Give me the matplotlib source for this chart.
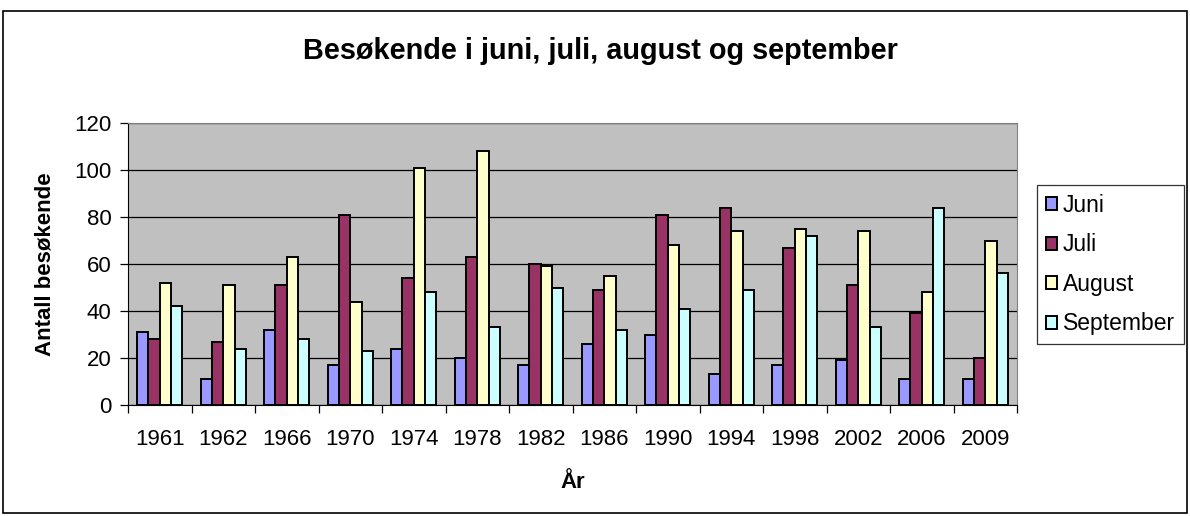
import matplotlib
matplotlib.use("Agg")
import matplotlib.pyplot as plt
import numpy as np
from matplotlib.patches import Rectangle

plt.rcParams["font.family"] = ["Liberation Sans", "DejaVu Sans"]

YEARS = ["1961", "1962", "1966", "1970", "1974", "1978", "1982",
         "1986", "1990", "1994", "1998", "2002", "2006", "2009"]
JUNI = [31, 11, 32, 17, 24, 20, 17, 26, 30, 13, 17, 19, 11, 11]
JULI = [28, 27, 51, 81, 54, 63, 60, 49, 81, 84, 67, 51, 39, 20]
AUGUST = [52, 51, 63, 44, 101, 108, 59, 55, 68, 74, 75, 74, 48, 70]
SEPTEMBER = [42, 24, 28, 23, 48, 33, 50, 32, 41, 49, 72, 33, 84, 56]

SERIES = [("Juni", JUNI, "#9999FF"),
          ("Juli", JULI, "#993366"),
          ("August", AUGUST, "#FFFFCC"),
          ("September", SEPTEMBER, "#CCFFFF")]

W, H = 1190, 516
fig = plt.figure(figsize=(W / 100, H / 100), dpi=100)
fig.patches.append(Rectangle((3 / W, 3 / H), (W - 6) / W, (H - 14) / H,
                             transform=fig.transFigure, fill=False,
                             edgecolor="black", linewidth=1.2))

ax = fig.add_axes([128 / W, (H - 405) / H, 889 / W, 282 / H])
ax.set_facecolor("#C0C0C0")

x = np.arange(len(YEARS))
bw = 0.178
for i, (name, vals, col) in enumerate(SERIES):
    ax.bar(x + (i - 1.5) * bw, vals, width=bw, color=col,
           edgecolor="black", linewidth=1.4, label=name, zorder=3)

ax.set_xlim(-0.5, len(YEARS) - 0.5)
ax.set_ylim(0, 120)
ax.set_yticks(range(0, 121, 20))
ax.yaxis.grid(True, color="black", linewidth=0.9, zorder=1)
ax.set_axisbelow(True)

ax.set_xticks(x)
ax.set_xticklabels(YEARS, fontsize=16)
ax.tick_params(axis="x", which="major", length=0, pad=17)
ax.set_xticks(np.arange(-0.5, len(YEARS)), minor=True)
ax.tick_params(axis="x", which="minor", length=6, direction="out", width=0.9)
ax.tick_params(axis="y", length=6, direction="out", labelsize=16, width=0.9, pad=6)

for s in ("top", "right"):
    ax.spines[s].set_color("#808080")
for s in ("left", "bottom"):
    ax.spines[s].set_color("black")

ax.set_xlabel("År", fontsize=16, fontweight="bold")
ax.xaxis.set_label_coords(0.5, (405 - 482) / 282)
ax.xaxis.label.set_va("center")
ax.set_ylabel("Antall besøkende", fontsize=16, fontweight="bold")
ax.yaxis.set_label_coords((45 - 128) / 889, 0.5)
ax.yaxis.label.set_va("center")

fig.text(600 / W, 1 - 51 / H, "Besøkende i juni, juli, august og september",
         ha="center", va="center", fontsize=20.8, fontweight="bold")

leg = ax.legend(loc="upper left", bbox_to_anchor=(1037 / W, 1 - 185 / H),
                bbox_transform=fig.transFigure, fontsize=16.5, frameon=True,
                fancybox=False, edgecolor="black", borderaxespad=0,
                handlelength=0.5, handleheight=0.5, handletextpad=0.25,
                labelspacing=0.72, borderpad=0.38)
leg.get_frame().set_linewidth(0.9)

fig.savefig("out.png", dpi=100)
